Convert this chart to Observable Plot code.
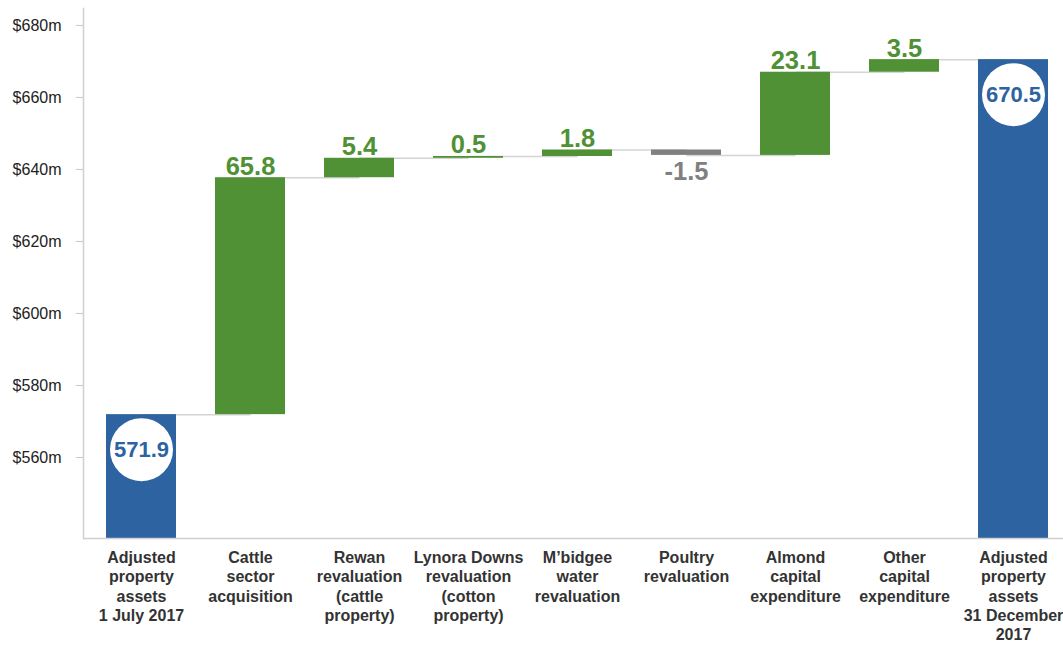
<!DOCTYPE html>
<html>
<head>
<meta charset="utf-8">
<script src="https://cdn.jsdelivr.net/npm/d3@7"></script>
<script src="https://cdn.jsdelivr.net/npm/@observablehq/plot@0.6"></script>
<style>
  html, body { margin: 0; padding: 0; background: #fff; }
  #chart svg { display: block; }
</style>
</head>
<body>
<div id="chart"></div>
<script>
const categories = [
  "Adjusted\nproperty\nassets\n1 July 2017",
  "Cattle\nsector\nacquisition",
  "Rewan\nrevaluation\n(cattle\nproperty)",
  "Lynora Downs\nrevaluation\n(cotton\nproperty)",
  "M’bidgee\nwater\nrevaluation",
  "Poultry\nrevaluation",
  "Almond\ncapital\nexpenditure",
  "Other\ncapital\nexpenditure",
  "Adjusted\nproperty\nassets\n31 December\n2017"
];
const values = [571.9, 65.8, 5.4, 0.5, 1.8, -1.5, 23.1, 3.5, 670.5];
const kinds = ["total", "change", "change", "change", "change", "change", "change", "change", "total"];
const yTicks = [560, 580, 600, 620, 640, 660, 680];

const yMin = 537.5, yMax = 684.7;
const GREEN = "#4f9134", BLUE = "#2e63a1", GRAY = "#808080";

// build waterfall table
let running = 0;
const rows = categories.map((c, i) => {
  let y1, y2;
  if (kinds[i] === "total") { y1 = yMin; y2 = values[i]; running = values[i]; }
  else { y1 = running; y2 = running + values[i]; running = y2; }
  const color = kinds[i] === "total" ? BLUE : (values[i] < 0 ? GRAY : GREEN);
  return {cat: c, value: values[i], kind: kinds[i], y1, y2, top: Math.max(y1, y2), bottom: Math.min(y1, y2), end: running, color};
});
const links = rows.slice(0, -1).map((r, i) => ({a: r.cat, b: rows[i + 1].cat, y: r.kind === "total" ? r.y2 : r.end}));

const pos = rows.filter(r => r.kind === "change" && r.value >= 0);
const neg = rows.filter(r => r.kind === "change" && r.value < 0);
const tot = rows.filter(r => r.kind === "total");

const chart = Plot.plot({
  width: 1063,
  height: 645,
  marginLeft: 83,
  marginRight: 0,
  marginTop: 8,
  marginBottom: 107,
  style: {fontFamily: "Arial, 'Liberation Sans', sans-serif", background: "#fff"},
  x: {domain: categories, paddingInner: 0.36, paddingOuter: 0.15, align: 0.6, label: null},
  y: {domain: [yMin, yMax], label: null},
  marks: [
    Plot.link(links, {x1: "a", x2: "b", y1: "y", y2: "y", stroke: "#d4d4d4", strokeWidth: 1.5}),
    Plot.barY(rows, {x: "cat", y1: "y1", y2: "y2", fill: "color", insetLeft: 0, insetRight: 0}),
    Plot.ruleY([yMin], {stroke: "#d0d0d0", strokeWidth: 1.5}),
    Plot.frame({anchor: "left", stroke: "#d0d0d0", strokeWidth: 1.5}),
    Plot.axisY({ticks: yTicks, tickFormat: d => `$${d}m`, tickSize: 7, tickPadding: 15, fontSize: 16, stroke: "#c8c8c8", fill: "#222", label: null}),
    Plot.axisX({tickSize: 0, tickPadding: 11, fontSize: 16, fontWeight: "bold", fill: "#333", lineHeight: 1.2, label: null}),
    Plot.text(pos, {x: "cat", y: "top", text: d => d.value.toFixed(1), fill: GREEN, fontSize: 25.5, fontWeight: "bold", lineAnchor: "bottom", dy: -3}),
    Plot.text(neg, {x: "cat", y: "bottom", text: d => d.value.toFixed(1), fill: GRAY, fontSize: 25.5, fontWeight: "bold", lineAnchor: "top", dy: 6}),
    Plot.dot(tot, {x: "cat", y: "top", r: 31.5, fill: "#fff", stroke: null, dy: 35}),
    Plot.text(tot, {x: "cat", y: "top", text: d => d.value.toFixed(1), fill: BLUE, fontSize: 22, fontWeight: "bold", dy: 35})
  ]
});
document.getElementById("chart").appendChild(chart);
</script>
</body>
</html>
